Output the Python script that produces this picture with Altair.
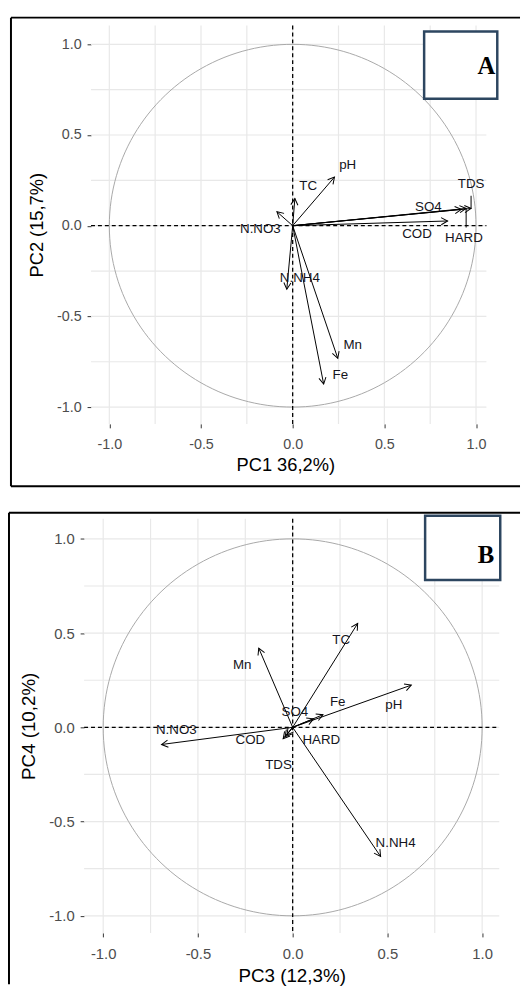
import altair as alt
import pandas as pd

variables = ["pH", "TC", "N.NO3", "TDS", "SO4", "COD", "HARD", "N.NH4", "Mn", "Fe"]

# Panel A : loadings on PC1 / PC2 (arrow tips) and label positions
a_pc1 = [0.228, 0.012, -0.086, 0.973, 0.920, 0.845, 0.946, -0.032, 0.246, 0.169]
a_pc2 = [0.268, 0.150, 0.077, 0.095, 0.090, 0.026, 0.095, -0.350, -0.731, -0.873]
a_lab_x = [0.300, 0.085, -0.176, 0.973, 0.740, 0.678, 0.934, 0.039, 0.327, 0.260]
a_lab_y = [0.337, 0.219, -0.019, 0.232, 0.105, -0.045, -0.068, -0.286, -0.658, -0.822]
# label connector segments (repelled labels)
a_seg_x = [0.973, 0.946]
a_seg_y1 = [0.095, 0.095]
a_seg_y2 = [0.165, -0.010]

# Panel B : loadings on PC3 / PC4 (arrow tips) and label positions
b_pc3 = [0.626, 0.343, -0.692, -0.040, 0.110, -0.050, -0.030, 0.464, -0.179, 0.160]
b_pc4 = [0.224, 0.551, -0.091, -0.050, 0.045, -0.060, -0.040, -0.685, 0.420, 0.067]
b_lab_x = [0.534, 0.256, -0.614, -0.075, 0.012, -0.223, 0.151, 0.543, -0.266, 0.238]
b_lab_y = [0.119, 0.463, -0.017, -0.201, 0.079, -0.070, -0.070, -0.615, 0.332, 0.136]
b_seg_x = []
b_seg_y1 = []
b_seg_y2 = []

tick_values = [-1.0, -0.5, 0.0, 0.5, 1.0]
grid_values = [-1.0, -0.75, -0.5, -0.25, 0.0, 0.25, 0.5, 0.75, 1.0]

SANS = "Liberation Sans"
LABEL_EXPR = "replace(format(datum.value, '.1f'), '\u2212', '-')"


def panel(px, py, lx, ly, sx, sy1, sy2, xtitle, ytitle, letter, cfg):
    W, H = cfg["w"], cfg["h"]
    xs = alt.Scale(domain=cfg["xdom"], nice=False, zero=False)
    ys = alt.Scale(domain=cfg["ydom"], nice=False, zero=False)

    x_axis = alt.Axis(values=tick_values, title=xtitle, grid=False, domain=False,
                      tickSize=4, tickColor="#333333", tickWidth=1,
                      labelFont=SANS, labelFontSize=cfg["tfs"], labelColor="#4d4d4d",
                      labelPadding=10, labelExpr=LABEL_EXPR, labelFlush=False,
                      titleFont=SANS, titleFontSize=cfg["ttfs"], titleFontWeight="normal",
                      titleColor="#000000", titlePadding=5)
    y_axis = alt.Axis(values=tick_values, title=ytitle, grid=False, domain=False,
                      tickSize=4, tickColor="#333333", tickWidth=1,
                      labelFont=SANS, labelFontSize=cfg["tfs"], labelColor="#4d4d4d",
                      labelPadding=6, labelExpr=LABEL_EXPR, labelFlush=False,
                      titleFont=SANS, titleFontSize=cfg["ttfs"], titleFontWeight="normal",
                      titleColor="#000000", titlePadding=10, offset=cfg["yoff"])

    def X(f):
        return alt.X(f, scale=xs, axis=x_axis)

    def Y(f):
        return alt.Y(f, scale=ys, axis=y_axis)

    grid_df = pd.DataFrame({"g": grid_values})
    one = pd.DataFrame({"z": [0.0]})
    df = pd.DataFrame({"var": variables, "px": px, "py": py, "lx": lx, "ly": ly,
                       "x0": [0.0] * len(px), "y0": [0.0] * len(px)})
    seg = pd.DataFrame({"sx": sx, "sy1": sy1, "sy2": sy2})

    vgrid = alt.Chart(grid_df).mark_rule(color="#e8e8e8", strokeWidth=1.2).encode(
        x=X("g:Q"), y=alt.value(0), y2=alt.value(H))
    hgrid = alt.Chart(grid_df).mark_rule(color="#e8e8e8", strokeWidth=1.2).encode(
        y=Y("g:Q"), x=alt.value(cfg["gx0"]), x2=alt.value(W))
    circle = alt.Chart(alt.sequence(0, 362, 2, as_="deg")).transform_calculate(
        cx="cos(datum.deg * PI / 180)", cy="sin(datum.deg * PI / 180)"
    ).mark_line(color="#a8a8a8", strokeWidth=1).encode(
        x=X("cx:Q"), y=Y("cy:Q"), order="deg:Q")
    vzero = alt.Chart(one).mark_rule(color="#000000", strokeWidth=1.3, strokeDash=[4, 3]).encode(
        x=X("z:Q"), y=alt.value(0), y2=alt.value(H))
    hzero = alt.Chart(one).mark_rule(color="#000000", strokeWidth=1.3, strokeDash=[4, 3]).encode(
        y=Y("z:Q"), x=alt.value(cfg["gx0"]), x2=alt.value(W))
    arrows = alt.Chart(df).mark_rule(color="#000000", strokeWidth=1).encode(
        x=X("x0:Q"), y=Y("y0:Q"), x2="px:Q", y2="py:Q")
    heads = alt.Chart(df).transform_calculate(
        ang="(atan2(datum.px, datum.py) * 180 / PI + 360) % 360"
    ).mark_point(shape="M-0.55,1L0,0L0.55,1", filled=False, stroke="#000000",
                 strokeWidth=1, size=170, opacity=1).encode(
        x=X("px:Q"), y=Y("py:Q"), angle=alt.Angle("ang:Q", scale=None))
    labels = alt.Chart(df).mark_text(font=SANS, fontSize=cfg["lfs"], color="#141420",
                                     align="center", baseline="middle").encode(
        x=X("lx:Q"), y=Y("ly:Q"), text="var:N")
    layers = [vgrid, hgrid, circle, vzero, hzero, arrows, heads, labels]
    if len(sx):
        layers.append(alt.Chart(seg).mark_rule(color="#000000", strokeWidth=1).encode(
            x=X("sx:Q"), y=Y("sy1:Q"), y2="sy2:Q"))
    # outer frame of the panel
    for (x1, x2, y1, y2) in cfg["frame"]:
        layers.append(alt.Chart(one).mark_rule(color="#000000", strokeWidth=2).encode(
            x=alt.value(x1), x2=alt.value(x2), y=alt.value(y1), y2=alt.value(y2)))
    bx1, bx2, by1, by2 = cfg["box"]
    layers.append(alt.Chart(one).mark_rect(fill="#ffffff", stroke="#2d4660", strokeWidth=2.5).encode(
        x=alt.value(bx1), x2=alt.value(bx2), y=alt.value(by1), y2=alt.value(by2)))
    layers.append(alt.Chart(one).mark_text(font="Liberation Serif", fontWeight="bold",
                                           fontSize=25, color="#000000", align="right",
                                           baseline="middle", text=letter).encode(
        x=alt.value(cfg["letter"][0]), y=alt.value(cfg["letter"][1])))
    return alt.layer(*layers).properties(width=W, height=H)


cfg_a = dict(w=407, h=403, xdom=[-1.1375, 1.0566], ydom=[-1.0926, 1.1035], yoff=-7, gx0=7,
             tfs=14.5, ttfs=18.5, lfs=13.5,
             frame=[(-74, 441, -8, -8), (-74, -74, -8, 466), (-74, 441, 466, 466)],
             box=(344, 418, 6, 74), letter=(416, 41))
cfg_b = dict(w=420, h=419, xdom=[-1.1007, 1.0903], ydom=[-1.0907, 1.1065], yoff=0, gx0=0,
             tfs=15, ttfs=19, lfs=13.5,
             frame=[(-76, 441, -6, -6), (-76, -76, -6, 471)],
             box=(345, 421, -3, 62), letter=(415, 37))

chart_a = panel(a_pc1, a_pc2, a_lab_x, a_lab_y, a_seg_x, a_seg_y1, a_seg_y2,
                "PC1 36,2%)", "PC2 (15,7%)", "A", cfg_a)
chart_b = panel(b_pc3, b_pc4, b_lab_x, b_lab_y, b_seg_x, b_seg_y1, b_seg_y2,
                "PC3 (12,3%)", "PC4 (10,2%)", "B", cfg_b)

chart = alt.vconcat(chart_a, chart_b, spacing=25).properties(
    padding={"left": 0, "top": 3, "right": 0, "bottom": 0},
    background="#ffffff",
).configure_view(stroke=None)

chart.save("out.html", embed_options={"renderer": "svg", "actions": False})
